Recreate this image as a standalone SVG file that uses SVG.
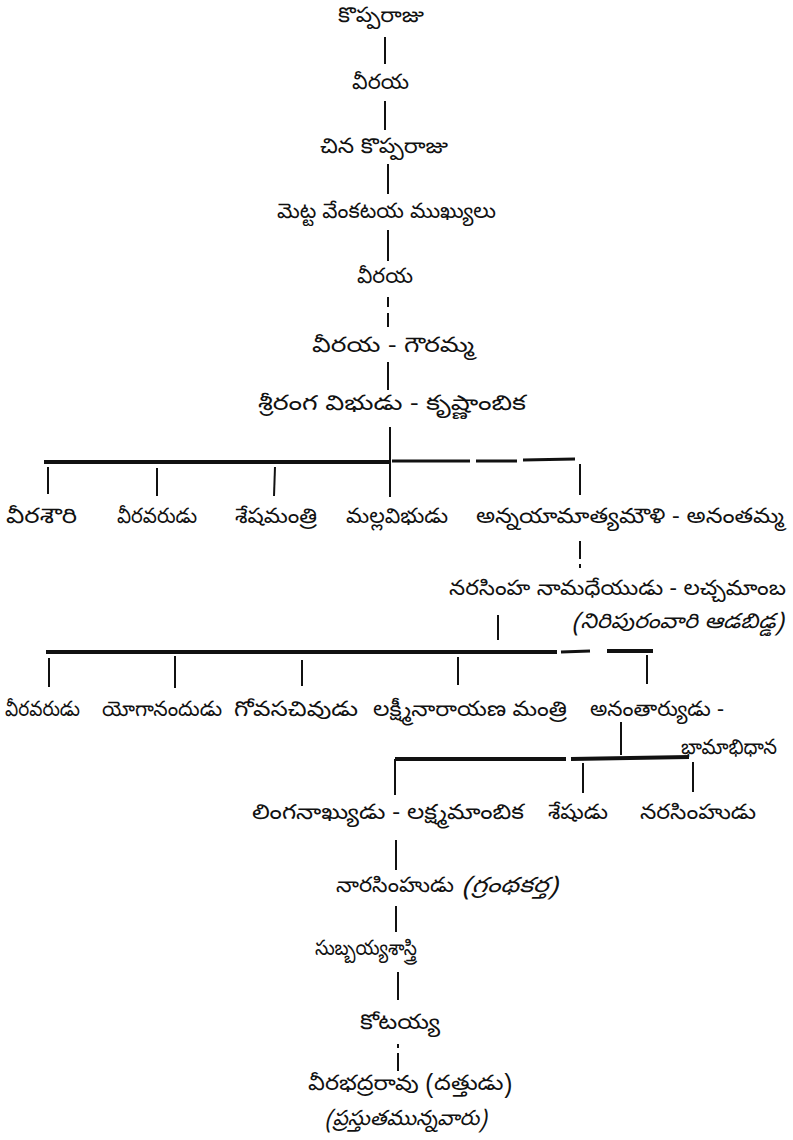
<svg xmlns="http://www.w3.org/2000/svg" width="793" height="1140" viewBox="0 0 793 1140">
<style>
text{font-family:"Noto Sans Telugu","Lohit Telugu","Gautami","Noto Sans","DejaVu Sans",sans-serif;font-size:21px;fill:#111;}
.it{font-style:italic;}
.v{stroke:#111;stroke-width:2;fill:none;}
.b{stroke:#111;stroke-width:4;fill:none;}
.t{stroke:#111;stroke-width:3;fill:none;}
</style>
<rect width="793" height="1140" fill="#fff"/>
<g id="connectors">
<line class="v" x1="385" y1="37" x2="385" y2="64"/>
<line class="v" x1="385" y1="101" x2="385" y2="130"/>
<line class="v" x1="388" y1="164" x2="388" y2="194"/>
<line class="v" x1="388" y1="230" x2="388" y2="261"/>
<line class="v" x1="388" y1="297" x2="388" y2="307"/>
<line class="v" x1="388" y1="313" x2="388" y2="327"/>
<line class="v" x1="388" y1="362" x2="388" y2="390"/>
<line class="v" x1="390" y1="427" x2="390" y2="497"/>
<line class="b" x1="44" y1="462" x2="390" y2="462"/>
<line class="t" x1="392" y1="461" x2="470" y2="461"/>
<line class="t" x1="476" y1="461" x2="517" y2="461"/>
<line class="t" x1="523" y1="460" x2="575" y2="459"/>
<line class="v" x1="48" y1="467" x2="48" y2="494"/>
<line class="v" x1="157" y1="468" x2="157" y2="496"/>
<line class="v" x1="275" y1="467" x2="274" y2="496"/>
<line class="v" x1="580" y1="464" x2="580" y2="495"/>
<line class="v" x1="580" y1="541" x2="580" y2="559"/>
<line class="v" x1="580" y1="564" x2="580" y2="568"/>
<line class="v" x1="498" y1="615" x2="498" y2="640"/>
<line class="b" x1="46" y1="652" x2="557" y2="652"/>
<line class="t" x1="561" y1="652" x2="590" y2="651"/>
<line class="b" x1="607" y1="651" x2="653" y2="651"/>
<line class="v" x1="49" y1="658" x2="49" y2="687"/>
<line class="v" x1="175" y1="656" x2="175" y2="688"/>
<line class="v" x1="302" y1="660" x2="302" y2="686"/>
<line class="v" x1="458" y1="657" x2="458" y2="685"/>
<line class="v" x1="647" y1="655" x2="647" y2="684"/>
<line class="v" x1="621" y1="722" x2="621" y2="755"/>
<line class="b" x1="395" y1="759" x2="566" y2="759"/>
<line class="b" x1="571" y1="759" x2="689" y2="757"/>
<line class="v" x1="395" y1="759" x2="395" y2="795"/>
<line class="v" x1="583" y1="763" x2="583" y2="793"/>
<line class="v" x1="693" y1="762" x2="693" y2="792"/>
<line class="v" x1="396" y1="840" x2="396" y2="870"/>
<line class="v" x1="396" y1="906" x2="396" y2="932"/>
<line class="v" x1="398" y1="972" x2="398" y2="1000"/>
<line class="v" x1="398" y1="1044" x2="398" y2="1048"/>
<line class="v" x1="398" y1="1053" x2="398" y2="1071"/>
</g>
<g id="n1"><text x="338" y="22" textLength="86" lengthAdjust="spacingAndGlyphs">కొప్పరాజు</text></g>
<g id="n2"><text x="352" y="89" textLength="57" lengthAdjust="spacingAndGlyphs">వీరయ</text></g>
<g id="n3"><text x="320" y="153" textLength="128" lengthAdjust="spacingAndGlyphs">చిన కొప్పరాజు</text></g>
<g id="n4"><text x="277" y="218" textLength="219" lengthAdjust="spacingAndGlyphs">మెట్ట వేంకటయ ముఖ్యులు</text></g>
<g id="n5"><text x="357" y="283" textLength="56" lengthAdjust="spacingAndGlyphs">వీరయ</text></g>
<g id="n6"><text x="312" y="352" textLength="162" lengthAdjust="spacingAndGlyphs">వీరయ - గౌరమ్మ</text></g>
<g id="n7"><text x="258" y="410" textLength="268" lengthAdjust="spacingAndGlyphs">శ్రీరంగ విభుడు - కృష్ణాంబిక</text></g>
<g id="n8"><text x="6" y="523" textLength="71" lengthAdjust="spacingAndGlyphs">వీరశౌరి</text></g>
<g id="n9"><text x="117" y="523" textLength="80" lengthAdjust="spacingAndGlyphs">వీరవరుడు</text></g>
<g id="n10"><text x="235" y="523" textLength="82" lengthAdjust="spacingAndGlyphs">శేషమంత్రి</text></g>
<g id="n11"><text x="346" y="523" textLength="102" lengthAdjust="spacingAndGlyphs">మల్లవిభుడు</text></g>
<g id="n12"><text x="476" y="523" textLength="308" lengthAdjust="spacingAndGlyphs">అన్నయామాత్యమౌళి - అనంతమ్మ</text></g>
<g id="n13"><text x="449" y="595" textLength="337" lengthAdjust="spacingAndGlyphs">నరసింహ నామధేయుడు - లచ్చమాంబ</text><text class="it" x="572" y="628" textLength="212" lengthAdjust="spacingAndGlyphs">(నిరిపురంవారి ఆడబిడ్డ)</text></g>
<g id="n14"><text x="5" y="716" textLength="75" lengthAdjust="spacingAndGlyphs">వీరవరుడు</text></g>
<g id="n15"><text x="102" y="716" textLength="120" lengthAdjust="spacingAndGlyphs">యోగానందుడు</text></g>
<g id="n16"><text x="234" y="716" textLength="124" lengthAdjust="spacingAndGlyphs">గోవసచివుడు</text></g>
<g id="n17"><text x="373" y="716" textLength="194" lengthAdjust="spacingAndGlyphs">లక్ష్మీనారాయణ మంత్రి</text></g>
<g id="n18"><text x="590" y="716" textLength="134" lengthAdjust="spacingAndGlyphs">అనంతార్యుడు -</text><text x="681" y="754" textLength="96" lengthAdjust="spacingAndGlyphs">భామాభిధాన</text></g>
<g id="n19"><text x="252" y="819" textLength="272" lengthAdjust="spacingAndGlyphs">లింగనాఖ్యుడు - లక్ష్మమాంబిక</text></g>
<g id="n20"><text x="548" y="819" textLength="60" lengthAdjust="spacingAndGlyphs">శేషుడు</text></g>
<g id="n21"><text x="640" y="819" textLength="116" lengthAdjust="spacingAndGlyphs">నరసింహుడు</text></g>
<g id="n22"><text x="336" y="892" textLength="118" lengthAdjust="spacingAndGlyphs">నారసింహుడు</text><text class="it" x="462" y="892" textLength="96" lengthAdjust="spacingAndGlyphs">(గ్రంథకర్త)</text></g>
<g id="n23"><text x="315" y="955" textLength="102" lengthAdjust="spacingAndGlyphs">సుబ్బయ్యశాస్త్రి</text></g>
<g id="n24"><text x="360" y="1029" textLength="80" lengthAdjust="spacingAndGlyphs">కోటయ్య</text></g>
<g id="n25"><text x="308" y="1090" textLength="204" lengthAdjust="spacingAndGlyphs">వీరభద్రరావు (దత్తుడు)</text><text class="it" x="325" y="1125" textLength="162" lengthAdjust="spacingAndGlyphs">(ప్రస్తుతమున్నవారు)</text></g>
</svg>
